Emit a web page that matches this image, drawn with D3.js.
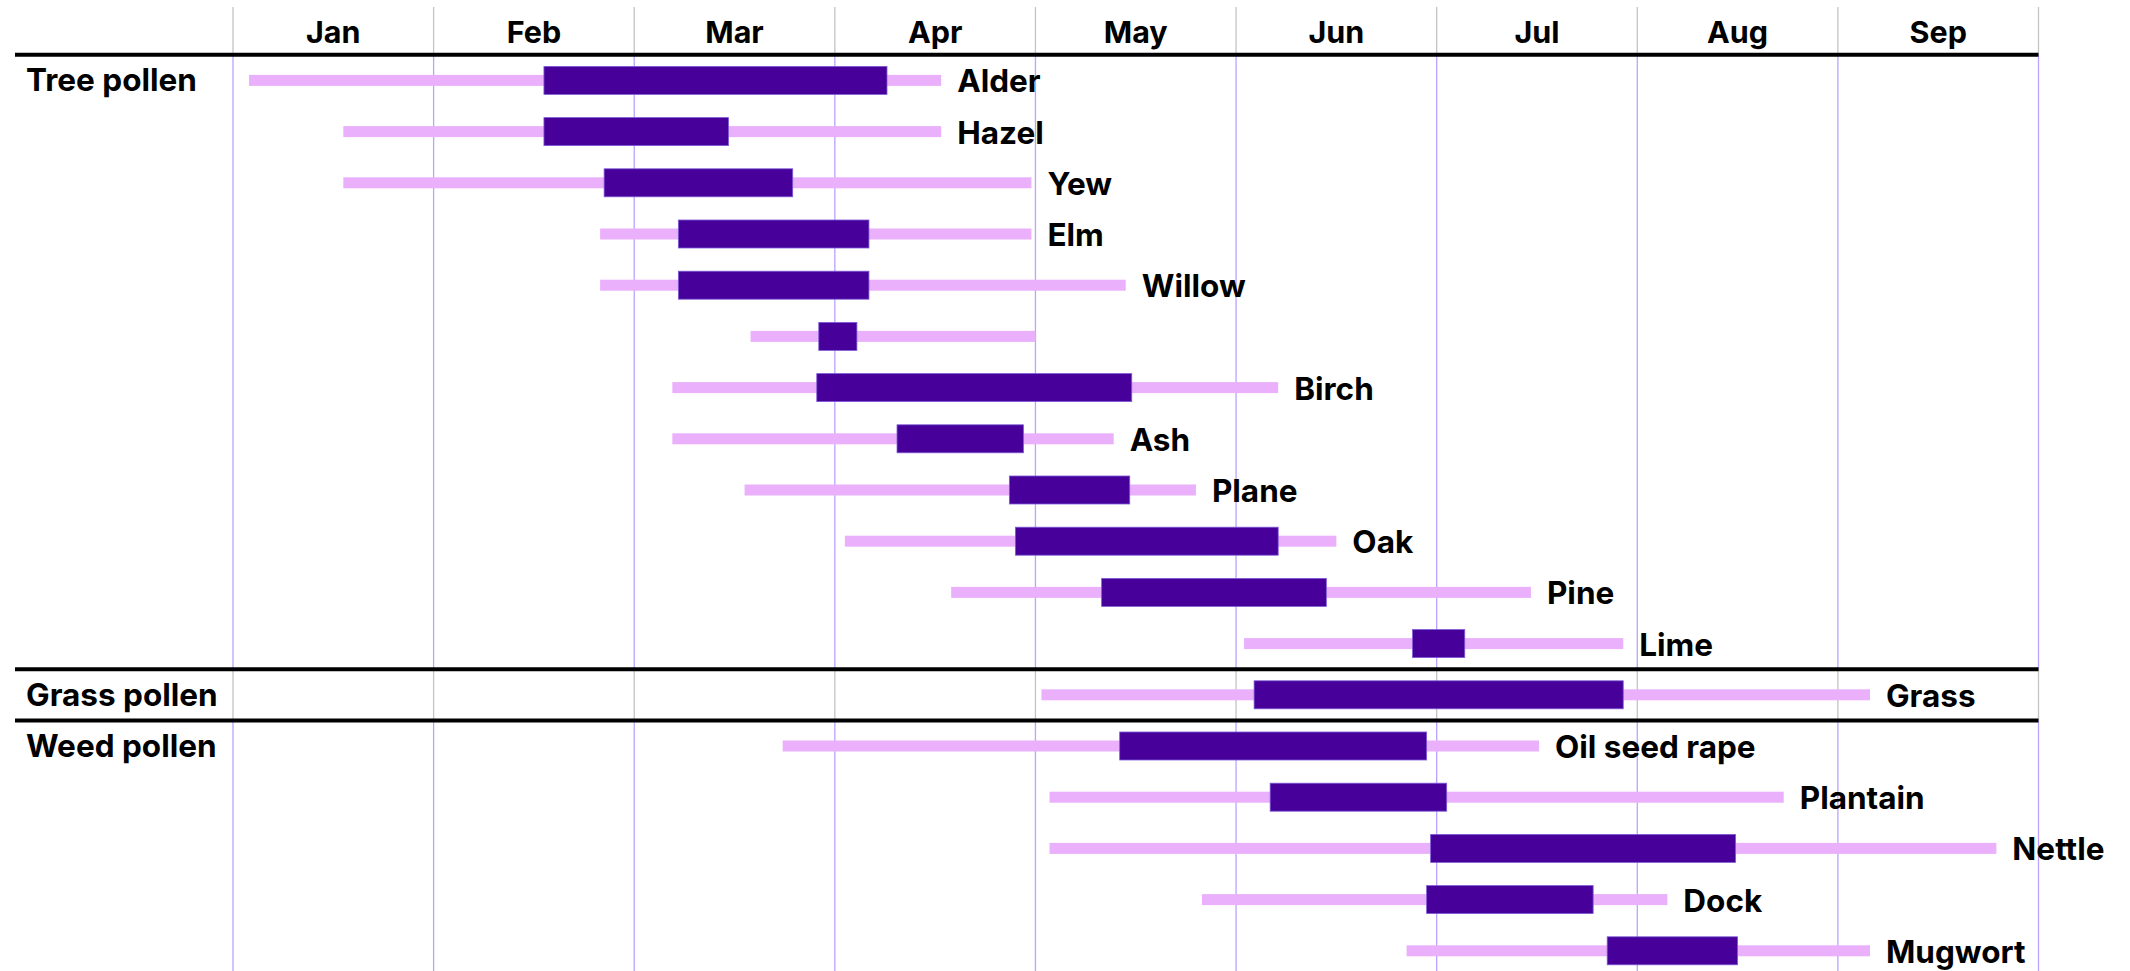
<!DOCTYPE html>
<html>
<head>
<meta charset="utf-8">
<script src="https://cdn.jsdelivr.net/npm/d3@7"></script>
<style>
  body { margin: 0; background: #fff; }
  text { font-family: Inter, 'Noto Sans', sans-serif; font-weight: 700; fill: #000; }
</style>
</head>
<body>
<div id="chart"></div>
<script>
// pollen calendar: months as fractional values, 0 = 1 Jan, 9 = 1 Oct
const months      = ['Jan', 'Feb', 'Mar', 'Apr', 'May', 'Jun', 'Jul', 'Aug', 'Sep']
const groupNames  = ['Tree pollen', 'Grass pollen', 'Weed pollen']
const plants      = ['Alder', 'Hazel', 'Yew', 'Elm', 'Willow', '', 'Birch', 'Ash', 'Plane', 'Oak', 'Pine', 'Lime', 'Grass', 'Oil seed rape', 'Plantain', 'Nettle', 'Dock', 'Mugwort']
const plantGroup  = ['Tree pollen', 'Tree pollen', 'Tree pollen', 'Tree pollen', 'Tree pollen', 'Tree pollen', 'Tree pollen', 'Tree pollen', 'Tree pollen', 'Tree pollen', 'Tree pollen', 'Tree pollen',
                     'Grass pollen', 'Weed pollen', 'Weed pollen', 'Weed pollen', 'Weed pollen', 'Weed pollen']
const seasonStart = [0.08, 0.55, 0.55, 1.83, 1.83, 2.58, 2.19, 2.19, 2.55, 3.05, 3.58, 5.04, 4.03, 2.74, 4.07, 4.07, 4.83, 5.85]
const seasonEnd   = [3.53, 3.53, 3.98, 3.98, 4.45, 4.00, 5.21, 4.39, 4.80, 5.50, 6.47, 6.93, 8.16, 6.51, 7.73, 8.79, 7.15, 8.16]
const peakStart   = [1.55, 1.55, 1.85, 2.22, 2.22, 2.92, 2.91, 3.31, 3.87, 3.90, 4.33, 5.88, 5.09, 4.42, 5.17, 5.97, 5.95, 6.85]
const peakEnd     = [3.26, 2.47, 2.79, 3.17, 3.17, 3.11, 4.48, 3.94, 4.47, 5.21, 5.45, 6.14, 6.93, 5.95, 6.05, 7.49, 6.78, 7.50]

const width = 2130, height = 971
const pink = '#ebb0fb', purple = '#470099'
const gridPurple = '#b9a3ff', gridGrey = '#c4c4c4'

const rows = plants.map((name, i) => ({
  i: i, name: name, group: plantGroup[i],
  s0: seasonStart[i], s1: seasonEnd[i], p0: peakStart[i], p1: peakEnd[i]
}))

const svg = d3.select('#chart').append('svg').attr('width', width).attr('height', height)

const x = d3.scaleLinear().domain([0, months.length]).range([233, 2038.5])
const y = d3.scaleBand().domain(d3.range(rows.length)).range([54.8, 54.8 + 51.2 * rows.length]).padding(0)
const headerTop = 7

// group extents (first and last row of each group)
const groups = groupNames.map(g => {
  const idx = rows.filter(r => r.group == g).map(r => r.i)
  return { name: g, first: d3.min(idx), last: d3.max(idx) }
})

// gridlines: grey in header and grass band, purple elsewhere
const ticks = d3.range(months.length + 1)
svg.append('g').selectAll('line').data(ticks).enter().append('line')
  .attr('x1', d => x(d)).attr('x2', d => x(d))
  .attr('y1', headerTop).attr('y2', y.range()[0])
  .attr('stroke', gridGrey).attr('stroke-width', 1.3)

groups.forEach(g => {
  const top = y(g.first), bottom = g.last == rows.length - 1 ? height : y(g.last) + y.step()
  svg.append('g').selectAll('line').data(ticks).enter().append('line')
    .attr('x1', d => x(d)).attr('x2', d => x(d))
    .attr('y1', top).attr('y2', bottom)
    .attr('stroke', g.name == 'Grass pollen' ? gridGrey : gridPurple).attr('stroke-width', 1.3)
})

// month labels, centred in each month
svg.append('g').selectAll('text').data(months).enter().append('text')
  .attr('x', (d, i) => x(i + 0.5)).attr('y', 43)
  .attr('text-anchor', 'middle')
  .style('font-size', '30.5px')
  .text(d => d)

// season (light) bars
svg.append('g').selectAll('rect').data(rows).enter().append('rect')
  .attr('x', d => x(d.s0)).attr('width', d => x(d.s1) - x(d.s0))
  .attr('y', d => y(d.i) + y.bandwidth() / 2 - 5.5).attr('height', 11)
  .attr('fill', pink)

// peak (dark) bars
svg.append('g').selectAll('rect').data(rows).enter().append('rect')
  .attr('x', d => x(d.p0)).attr('width', d => x(d.p1) - x(d.p0))
  .attr('y', d => y(d.i) + y.bandwidth() / 2 - 14).attr('height', 28)
  .attr('fill', purple)
  .attr('stroke', '#7d5ad8').attr('stroke-width', 0.8)

// plant names after the season bar
svg.append('g').selectAll('text').data(rows).enter().append('text')
  .attr('x', d => x(d.s1) + 16)
  .attr('y', d => y(d.i) + y.bandwidth() / 2 + 12)
  .style('font-size', '31.5px')
  .text(d => d.name)

// group labels on the left
svg.append('g').selectAll('text').data(groups).enter().append('text')
  .attr('x', 26)
  .attr('y', d => y(d.first) + y.bandwidth() / 2 + 11)
  .style('font-size', '31.5px')
  .text(d => d.name)

// black separators: header line and between groups
const separators = [y.range()[0]].concat(groups.slice(1).map(g => y(g.first)))
svg.append('g').selectAll('line').data(separators).enter().append('line')
  .attr('x1', 15).attr('x2', x(months.length))
  .attr('y1', d => d).attr('y2', d => d)
  .attr('stroke', '#000').attr('stroke-width', 4)
</script>
</body>
</html>
